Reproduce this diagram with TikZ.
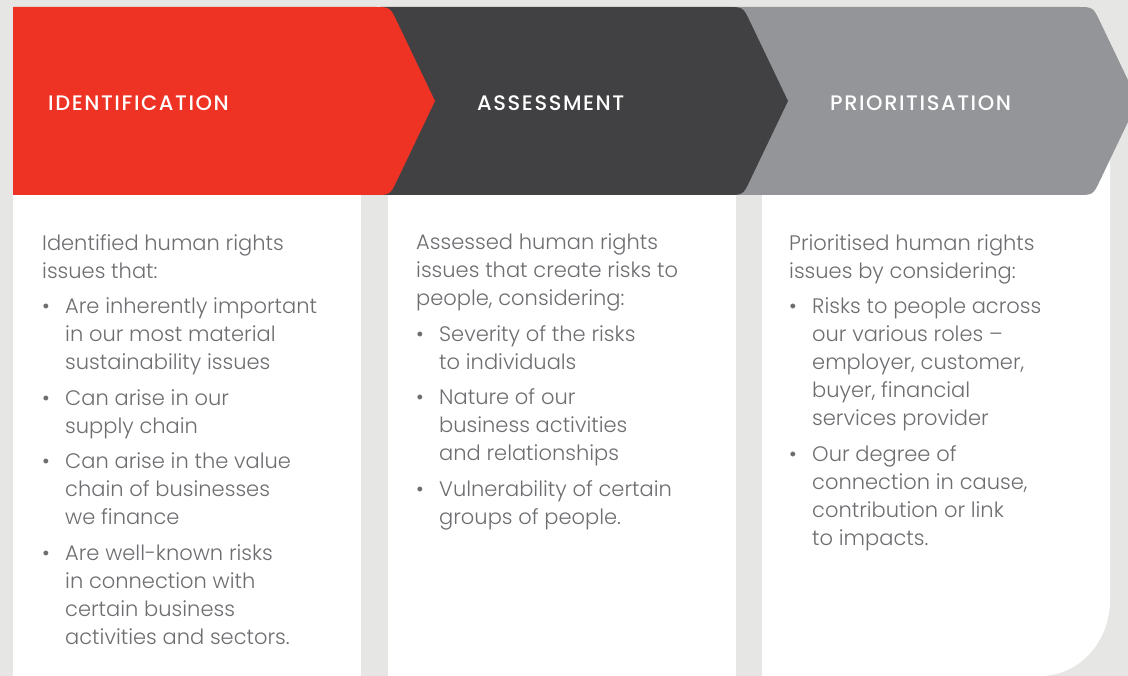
\documentclass[tikz,border=0pt]{standalone}
\usepackage{fontspec}
\setmainfont{Poppins}[UprightFont=* Light, BoldFont=* Medium]
\newfontfamily\headfont{Poppins Medium}[LetterSpace=7.5]
\definecolor{pagegrey}{HTML}{E6E6E4}
\definecolor{idred}{HTML}{EE3224}
\definecolor{assessdark}{HTML}{414143}
\definecolor{priogrey}{HTML}{939598}
\definecolor{bodygrey}{HTML}{6D6E71}
\tikzset{
  heading/.style={anchor=base west, inner sep=0pt, text=white,
    font=\fontsize{21}{25}\selectfont\headfont},
  % anchored at the baseline of the last line
  column/.style={anchor=base west, inner sep=0pt, align=left, text=bodygrey,
    font=\fontsize{21}{28}\selectfont},
  panel/.style={fill=white}
}
% chevron: left x, apex x, colour
\newcommand\chevron[3]{%
  \fill[#3] (#1,7) -- ({#2-16},7) .. controls (#2,7) .. ({#2+6.9},21.4)
    -- ({#2+45},101) -- ({#2+6.9},180.6) .. controls (#2,195) .. ({#2-16},195)
    -- (#1,195) -- cycle;}
\newcommand\itemdot{\makebox[23pt][l]{\textbullet}}
\newcommand\itemgap{\hspace*{23pt}}

\begin{document}
\begin{tikzpicture}[x=1pt,y=-1pt]
  \useasboundingbox (0,0) rectangle (1128,676);
  \clip (0,0) rectangle (1128,676);
  \fill[pagegrey] (0,0) rectangle (1128,676);

  % white panels
  \fill[panel] (13,195) rectangle (361,676);
  \fill[panel] (388,195) rectangle (736,676);
  \fill[panel] (762,120) -- (1110,120) -- (1110,600)
    .. controls (1110,642) and (1079,676) .. (1040,676) -- (762,676) -- cycle;

  % process chevrons, back to front
  \chevron{730}{1093}{priogrey}
  \chevron{380}{743}{assessdark}
  \chevron{13}{390}{idred}

  \node[heading] (identhead) at (48,111) {IDENTIFICATION};
  \node[heading] (assesshead) at (477,111) {ASSESSMENT};
  \node[heading] (priohead) at (830,111) {PRIORITISATION};

  \node[column] (identtext) at (42,644) {Identified human rights\\
    issues that:\\[7.5pt]
    \itemdot Are inherently important\\
    \itemgap in our most material\\
    \itemgap sustainability issues\\[7.5pt]
    \itemdot Can arise in our\\
    \itemgap supply chain\\[7.5pt]
    \itemdot Can arise in the value\\
    \itemgap chain of businesses\\
    \itemgap we finance\\[7.5pt]
    \itemdot Are well-known risks\\
    \itemgap in connection with\\
    \itemgap certain business\\
    \itemgap activities and sectors.};

  \node[column] (assesstext) at (416,524) {Assessed human rights\\
    issues that create risks to\\
    people, considering:\\[7.5pt]
    \itemdot Severity of the risks\\
    \itemgap to individuals\\[7.5pt]
    \itemdot Nature of our\\
    \itemgap business activities\\
    \itemgap and relationships\\[7.5pt]
    \itemdot Vulnerability of certain\\
    \itemgap groups of people.};

  \node[column] (priotext) at (789,545) {Prioritised human rights\\
    issues by considering:\\[7.5pt]
    \itemdot Risks to people across\\
    \itemgap our various roles –\\
    \itemgap employer, customer,\\
    \itemgap buyer, financial\\
    \itemgap services provider\\[7.5pt]
    \itemdot Our degree of\\
    \itemgap connection in cause,\\
    \itemgap contribution or link\\
    \itemgap to impacts.};
\end{tikzpicture}
\end{document}
